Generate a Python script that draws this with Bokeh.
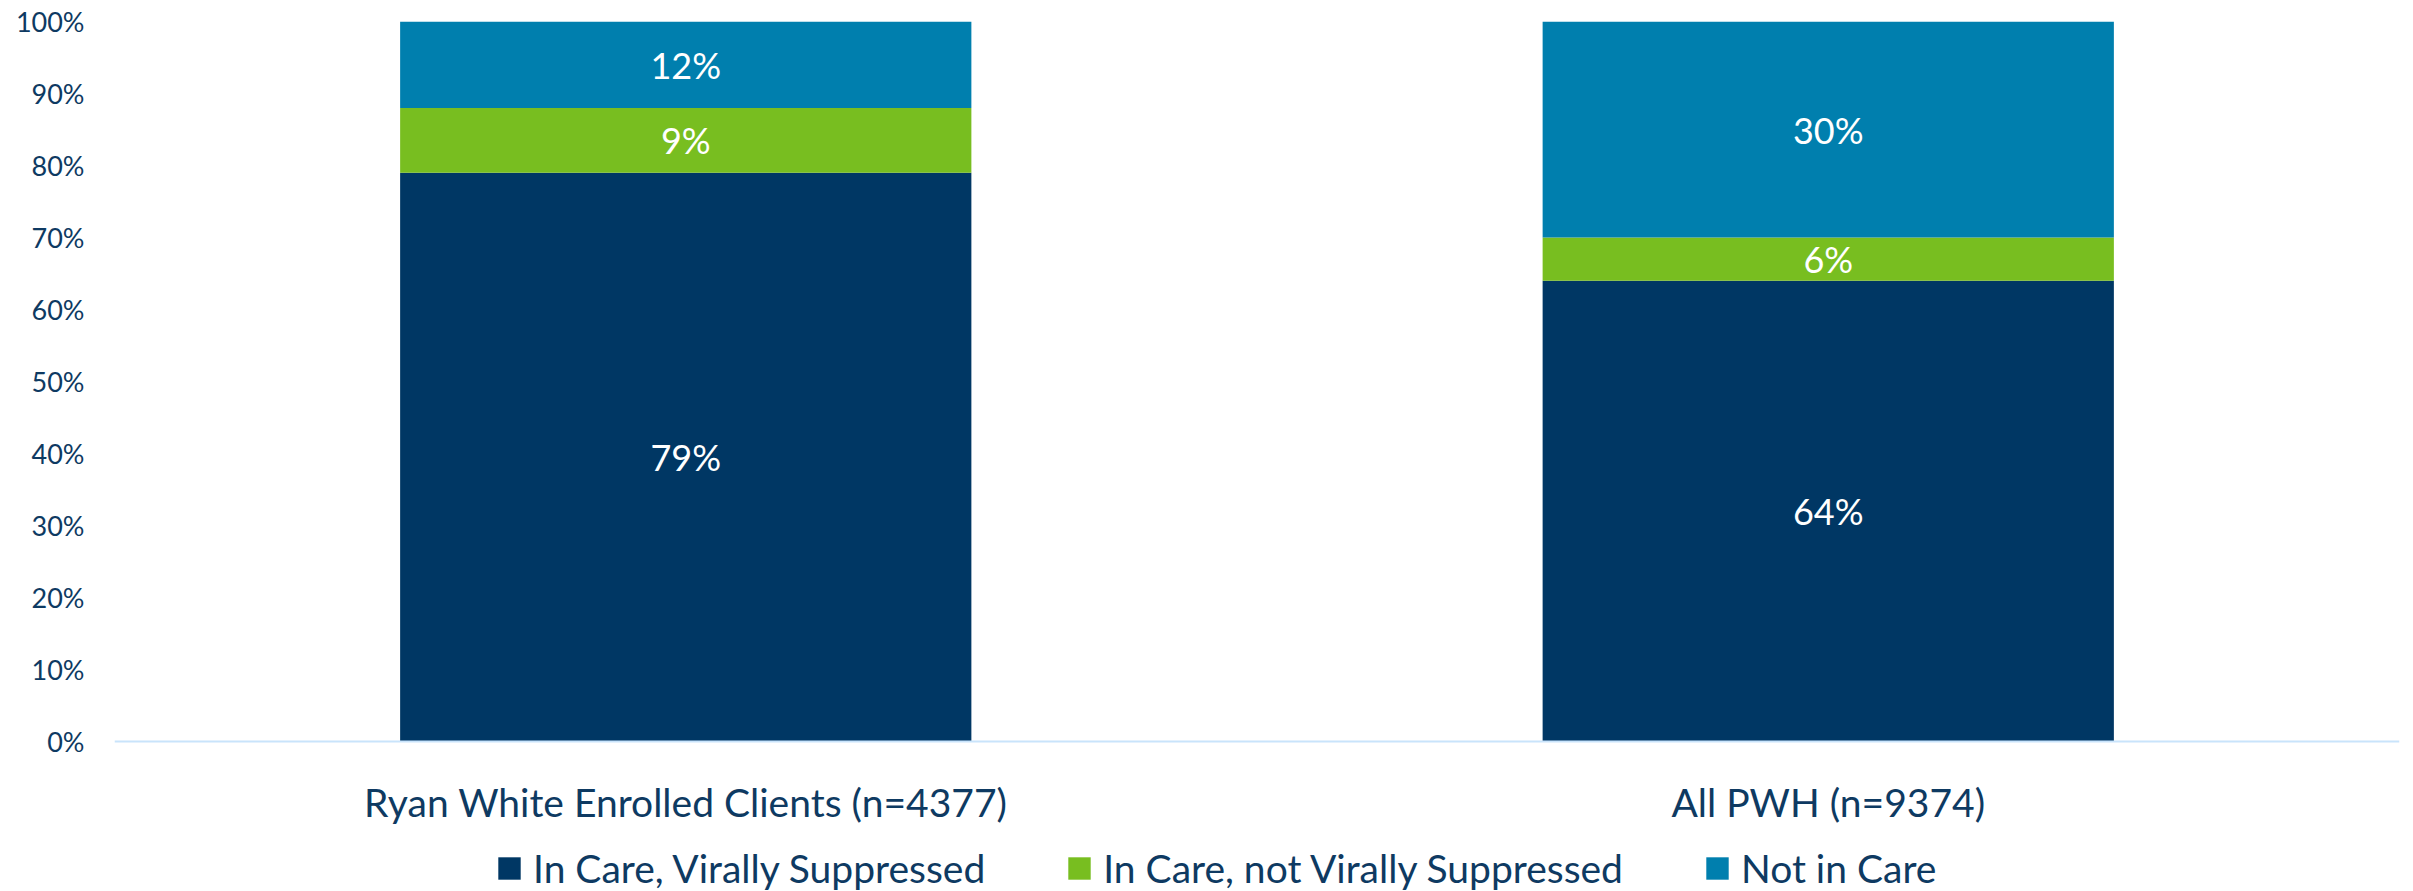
import numpy as np
from bokeh.plotting import figure
from bokeh.models import (ColumnDataSource, FactorRange, Range1d, FixedTicker,
                          PrintfTickFormatter, Legend, LegendItem, Span)
from bokeh.core.properties import value
from bokeh.embed import file_html
from bokeh.resources import INLINE

# ---- data ----
categories = ["Ryan White Enrolled Clients (n=4377)", "All PWH (n=9374)"]
series_names = ["In Care, Virally Suppressed", "In Care, not Virally Suppressed", "Not in Care"]
suppressed = [79, 64]
not_suppressed = [9, 6]
not_in_care = [12, 30]
y_ticks = [0, 10, 20, 30, 40, 50, 60, 70, 80, 90, 100]

colors = ["#003764", "#78BE20", "#007FAE"]
FONT = "Lato"
TEXT = "#0E3A62"

# layout (pixels): plot top at 21, zero line at 741, page bottom at 891
TOP_PX, ZERO_PX, BOTTOM_PX = 21, 741, 891
px_per_unit = (ZERO_PX - TOP_PX) / 100.0
y_min = -(BOTTOM_PX - ZERO_PX) / px_per_unit
cat_label_y = -(801 - ZERO_PX) / px_per_unit   # baseline of category labels

src = ColumnDataSource(dict(cat=categories, s0=suppressed, s1=not_suppressed, s2=not_in_care))

p = figure(x_range=FactorRange(factors=categories, range_padding=0),
           y_range=Range1d(y_min, 100),
           width=2413, height=891,
           output_backend="svg", toolbar_location=None,
           min_border_left=114, min_border_right=14,
           min_border_top=TOP_PX, min_border_bottom=0)

renderers = p.vbar_stack(["s0", "s1", "s2"], x="cat", width=0.5, color=colors,
                         line_width=0, source=src)

# zero baseline
p.add_layout(Span(location=0, dimension="width", line_color="#C9E4FB", line_width=2))

# segment labels
vals = np.array([suppressed, not_suppressed, not_in_care], dtype=float)
cum = np.cumsum(vals, axis=0)
mids = cum - vals / 2
lx, ly, lt = [], [], []
for i in range(vals.shape[0]):
    for j, c in enumerate(categories):
        lx.append(c)
        ly.append(mids[i, j])
        lt.append(f"{int(vals[i, j])}%")
lsrc = ColumnDataSource(dict(x=lx, y=ly, t=lt))
p.text(x="x", y="y", text="t", source=lsrc, text_color="white",
       text_font=value(FONT), text_font_size="36px",
       text_align="center", text_baseline="middle")

# category labels
csrc = ColumnDataSource(dict(x=categories, y=[cat_label_y] * len(categories), t=categories))
p.text(x="x", y="y", text="t", source=csrc, text_color=TEXT,
       text_font=value(FONT), text_font_size="39px",
       text_align="center", text_baseline="alphabetic")

# axes
p.xaxis.visible = False

p.yaxis.ticker = FixedTicker(ticks=y_ticks)
p.yaxis.formatter = PrintfTickFormatter(format="%d%%")
p.yaxis.axis_line_color = None
p.yaxis.major_tick_line_color = None
p.yaxis.minor_tick_line_color = None
p.yaxis.major_tick_out = 0
p.yaxis.major_tick_in = 0
p.yaxis.major_label_standoff = 30
p.yaxis.major_label_text_font = FONT
p.yaxis.major_label_text_font_size = "27px"
p.yaxis.major_label_text_color = TEXT

p.xgrid.grid_line_color = None
p.ygrid.grid_line_color = None
p.outline_line_color = None

legend = Legend(items=[LegendItem(label=s, renderers=[r]) for s, r in zip(series_names, renderers)],
                orientation="horizontal", location=(381, 0),
                glyph_width=28, glyph_height=28, label_standoff=10, spacing=80,
                padding=0, margin=0, border_line_color=None, background_fill_alpha=0,
                label_text_font=FONT, label_text_font_size="39px", label_text_color=TEXT)
p.add_layout(legend)

open("out.html", "w").write(file_html(p, INLINE))
